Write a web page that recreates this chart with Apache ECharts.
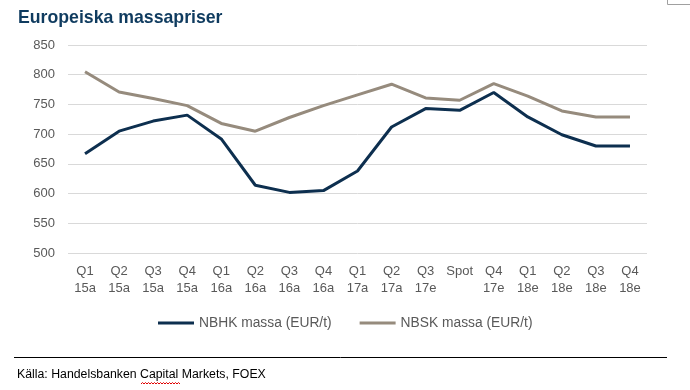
<!DOCTYPE html>
<html><head><meta charset="utf-8">
<script src="https://cdn.jsdelivr.net/npm/echarts@6/dist/echarts.min.js"></script>
<style>html,body{margin:0;padding:0;background:#fff}#c{width:690px;height:390px}</style>
</head><body><div id="c"></div>
<script>
var categories = ['Q1\n15a','Q2\n15a','Q3\n15a','Q4\n15a','Q1\n16a','Q2\n16a','Q3\n16a','Q4\n16a','Q1\n17a','Q2\n17a','Q3\n17e','Spot','Q4\n17e','Q1\n18e','Q2\n18e','Q3\n18e','Q4\n18e'];
var nbhk = [667,705,722,732,692,614,602,605,638,712,743,740,770,729,699,680,680];
var nbsk = [805,771,760,748,718,705,728,748,766,784,761,757,785,764,739,729,729];
var yTicks = {min:500, max:850, interval:50};

var chart = echarts.init(document.getElementById('c'));
chart.setOption({
  animation:false,
  title:{text:'Europeiska massapriser', left:13, top:4,
    textStyle:{fontFamily:'Liberation Sans, Arial', fontSize:17.7, fontWeight:'bold', color:'#0f3b5f'}},
  grid:{left:68, right:43, top:45, bottom:137},
  legend:{top:311, left:153, itemWidth:36, itemHeight:3, itemGap:28, icon:'rect',
    textStyle:{fontFamily:'Liberation Sans, Arial', fontSize:13.8, color:'#595959'},
    data:['NBHK massa (EUR/t)','NBSK massa (EUR/t)']},
  xAxis:{type:'category', data:categories, boundaryGap:true,
    axisLine:{show:false}, axisTick:{show:false},
    axisLabel:{interval:0, margin:10, fontFamily:'Liberation Sans, Arial', fontSize:13, color:'#595959', lineHeight:17}},
  yAxis:{type:'value', min:yTicks.min, max:yTicks.max, interval:yTicks.interval,
    axisLine:{show:false}, axisTick:{show:false},
    axisLabel:{margin:13, fontFamily:'Liberation Sans, Arial', fontSize:13, color:'#595959'},
    splitLine:{lineStyle:{color:'#d9d9d9', width:1}}},
  series:[
    {name:'NBHK massa (EUR/t)', type:'line', data:nbhk, symbol:'none', lineStyle:{color:'#0d2f4f', width:3}, itemStyle:{color:'#0d2f4f'}},
    {name:'NBSK massa (EUR/t)', type:'line', data:nbsk, symbol:'none', lineStyle:{color:'#968b7d', width:3}, itemStyle:{color:'#968b7d'}}
  ],
  graphic:[
    {type:'line', shape:{x1:14,y1:357.5,x2:667,y2:357.5}, style:{stroke:'#000', lineWidth:1}},
    {type:'text', left:17, top:369, style:{text:'Källa: Handelsbanken Capital Markets, FOEX', font:'12.3px "Liberation Sans", Arial', fill:'#000'}},
    {type:'polyline', shape:{points:[[141,384],[142.5,382.5],[144,384],[145.5,382.5],[147,384],[148.5,382.5],[150,384],[151.5,382.5],[153,384],[154.5,382.5],[156,384],[157.5,382.5],[159,384],[160.5,382.5],[162,384],[163.5,382.5],[165,384],[166.5,382.5],[168,384],[169.5,382.5],[171,384],[172.5,382.5],[174,384],[175.5,382.5],[177,384],[178.5,382.5],[180,384]]}, style:{stroke:'#e00000', lineWidth:1, fill:null}},
    {type:'polyline', shape:{points:[[667.5,0],[667.5,4.5],[690,4.5]]}, style:{stroke:'#a0a0a0', lineWidth:1, fill:null}}
  ]
});
</script></body></html>
